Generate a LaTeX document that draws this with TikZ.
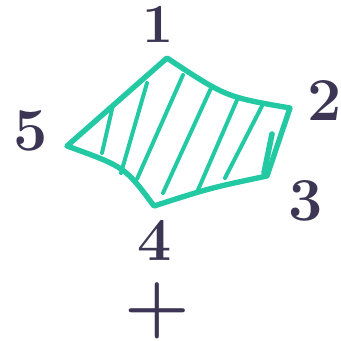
\documentclass[tikz,border=0pt]{standalone}
\definecolor{marker}{RGB}{34,201,163}
\definecolor{ink}{RGB}{60,54,84}
\begin{document}
\begin{tikzpicture}[x=0.03cm, y=-0.03cm,
    edge/.style={draw=marker, line width=4.6pt, line join=round, line cap=round},
    hatch/.style={draw=marker, line width=3.4pt, line cap=round},
    num/.style={text=ink, font=\fontsize{52}{52}\selectfont\bfseries, inner sep=0pt}]
    \useasboundingbox (0,0) rectangle (341,341);
    % corners of the pentagon
    \coordinate (c1) at (167,58);
    \coordinate (c2) at (290,108);
    \coordinate (c3) at (267,176);
    \coordinate (c4) at (154,206);
    \coordinate (c5) at (67,146);
    \draw[edge] (c1) .. controls (226,97) .. (c2) -- (c3)
        .. controls (210,188) .. (c4) .. controls (125,167) .. (c5) -- cycle;
    % hatching
    \foreach \xa/\ya/\xb/\yb in {113/105/102/153, 147/83/121/173, 183/75/137/179,
        212/86/163/193, 237/100/198/190, 262/106/225/178}
        \draw[hatch] (\xa,\ya) -- (\xb,\yb);
    \draw[hatch, line width=4.8pt] (272,134) -- (264,173);
    % corner numbers
    \node[num, font=\fontsize{47}{47}\selectfont\bfseries] (n1) at (158,24) {1};
    \node[num] (n2) at (325,101) {2};
    \node[num] (n3) at (306,201) {3};
    \node[num] (n4) at (155,240) {4};
    \node[num] (n5) at (31,131) {5};
    \node[num, font=\fontsize{64}{64}\selectfont\bfseries] (plus) at (157,311) {+};
\end{tikzpicture}
\end{document}
